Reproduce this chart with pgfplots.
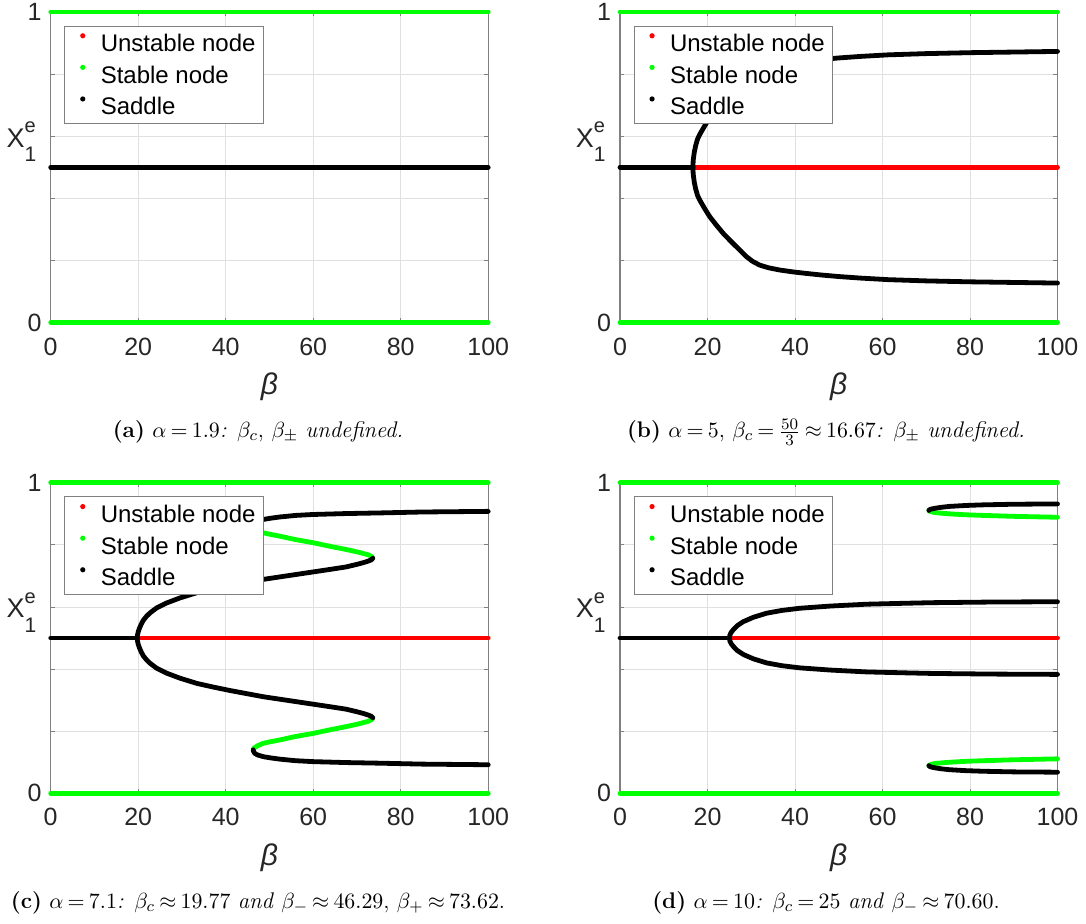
\documentclass[border=0pt]{standalone}
\usepackage{fontspec}
\setsansfont{Liberation Sans}
\usepackage{pgfplots}
\pgfplotsset{compat=1.18}
\definecolor{mgreen}{rgb}{0,1,0}
\definecolor{mred}{rgb}{1,0,0}
\definecolor{lab}{rgb}{0.15,0.15,0.15}
\pgfplotsset{
  curve/.style={forget plot, line width=2.4pt, line cap=round, line join=round},
  myaxis/.style={
    scale only axis, width=218.75pt, height=155.25pt,
    xmin=0, xmax=100, ymin=0, ymax=1,
    xtick={0,20,40,60,80,100},
    ytick={0,0.2,0.4,0.6,0.8,1}, yticklabels={0,,,,,1},
    grid=major, major grid style={draw=black!12, line width=0.5pt},
    axis line style={draw=black!50, line width=0.6pt},
    tick style={draw=black!50, line width=0.5pt},
    major tick length=2.2pt, tick align=inside,
    ticklabel style={font=\fontsize{12.5}{15}\selectfont\sffamily, text=lab},
    /pgf/number format/assume math mode=true,
    xticklabel shift=4pt, yticklabel shift=1pt,
    clip=false,
    xlabel={β},
    xlabel style={at={(rel axis cs:0.5,0)}, anchor=center, yshift=-32.25pt,
      font=\fontsize{15}{18}\selectfont\sffamily\itshape, text=lab},
    legend style={at={(0.031,0.956)}, anchor=north west, draw=black!50,
      line width=0.5pt, fill=white, font=\fontsize{12}{14}\selectfont\sffamily,
      inner xsep=4pt, inner ysep=3.5pt, row sep=5.5pt, column sep=4pt,
      nodes={inner sep=0pt, text height=9pt, text depth=1pt}},
    legend cell align=left,
    legend image code/.code={\path[draw=none] (0pt,4pt) -- (10pt,4pt);
      \fill[##1, draw=none] (5pt,4pt) circle (1.3pt);},
  }
}
\newcommand{\ylab}{\node[anchor=base east, inner sep=0pt, text=lab, font=\sffamily, xshift=-7pt]
  at (rel axis cs:0,0.565) {\fontsize{13.5}{15}\selectfont X\rlap{\raisebox{7.3pt}{\fontsize{10}{12}\selectfont e}}\raisebox{-7.3pt}{\fontsize{10.5}{12}\selectfont 1}};}
\newcommand{\leg}{%
  \addlegendimage{mred}\addlegendentry{Unstable node}
  \addlegendimage{mgreen}\addlegendentry{Stable node}
  \addlegendimage{black}\addlegendentry{Saddle}}
\newcommand{\tightrel}{\thickmuskip=3.5mu\relax}
\begin{document}
\begin{tikzpicture}
\useasboundingbox (0,0) rectangle (543pt,461.5pt);
% ---------------- (a)
\begin{axis}[myaxis, at={(25.35pt,300.25pt)}, anchor=south west]
\addplot[curve, mgreen] coordinates {(0,0) (100,0)};
\addplot[curve, mgreen] coordinates {(0,1) (100,1)};
\addplot[curve, black] coordinates {(0,0.5) (100,0.5)};
\leg
\ylab
\end{axis}
% ---------------- (b)
\begin{axis}[myaxis, at={(310pt,300.25pt)}, anchor=south west]
\addplot[curve, mgreen] coordinates {(0,0) (100,0)};
\addplot[curve, mgreen] coordinates {(0,1) (100,1)};
\addplot[curve, mred] coordinates {(16.67,0.5) (100,0.5)};
\addplot[curve, black] coordinates {(0,0.5) (16.67,0.5)};
\addplot[curve, black] coordinates {
(16.67,0.500) (16.72,0.480) (16.80,0.470) (17.00,0.450) (17.30,0.430) (17.70,0.410)
(18.20,0.395) (19.30,0.368) (20.50,0.341) (22.00,0.314) (23.60,0.287) (25.10,0.265)
(26.60,0.244) (28.90,0.212) (30.30,0.197) (31.90,0.185) (34.00,0.176) (36.50,0.169)
(39.50,0.163) (42.60,0.158) (46.00,0.153) (50.00,0.148) (55.00,0.143) (61.30,0.138)
(70.00,0.134) (80.00,0.131) (90.00,0.129) (100.00,0.127)};
\addplot[curve, black] coordinates {
(16.67,0.500) (16.72,0.520) (16.80,0.530) (17.00,0.550) (17.30,0.570) (17.70,0.590)
(18.20,0.605) (19.30,0.632) (20.50,0.659) (22.00,0.686) (23.60,0.713) (25.10,0.735)
(26.60,0.756) (28.90,0.788) (30.30,0.803) (31.90,0.815) (34.00,0.824) (36.50,0.831)
(39.50,0.837) (42.60,0.842) (46.00,0.847) (50.00,0.852) (55.00,0.857) (61.30,0.862)
(70.00,0.866) (80.00,0.869) (90.00,0.871) (100.00,0.873)};
\leg
\ylab
\end{axis}
% ---------------- (c)
\begin{axis}[myaxis, at={(25.35pt,64.85pt)}, anchor=south west]
\addplot[curve, mgreen] coordinates {(0,0) (100,0)};
\addplot[curve, mgreen] coordinates {(0,1) (100,1)};
\addplot[curve, mred] coordinates {(19.77,0.5) (100,0.5)};
\addplot[curve, mgreen] coordinates {
(73.62,0.243) (73.30,0.237) (72.60,0.232) (70.50,0.224) (67.60,0.215) (64.00,0.205)
(60.00,0.193) (56.00,0.183) (52.40,0.172) (50.20,0.166) (48.60,0.161) (47.40,0.154)
(46.70,0.148) (46.40,0.144) (46.29,0.140)};
\addplot[curve, mgreen] coordinates {
(73.62,0.757) (73.30,0.763) (72.60,0.768) (70.50,0.776) (67.60,0.785) (64.00,0.795)
(60.00,0.807) (56.00,0.817) (52.40,0.828) (50.20,0.834) (48.60,0.839) (47.40,0.846)
(46.70,0.852) (46.40,0.856) (46.29,0.860)};
\addplot[curve, black] coordinates {(0,0.5) (19.77,0.5)};
\addplot[curve, black] coordinates {
(19.77,0.500) (19.85,0.490) (20.00,0.480) (20.30,0.468) (20.70,0.455) (21.20,0.442)
(21.90,0.430) (22.70,0.419) (24.20,0.403) (26.50,0.387) (29.50,0.371) (33.40,0.354)
(37.20,0.342) (41.00,0.331) (48.60,0.311) (56.20,0.295) (63.80,0.279) (67.50,0.271)
(69.90,0.263) (71.50,0.257) (72.60,0.252) (73.30,0.248) (73.62,0.243)};
\addplot[curve, black] coordinates {
(19.77,0.500) (19.85,0.510) (20.00,0.520) (20.30,0.532) (20.70,0.545) (21.20,0.558)
(21.90,0.570) (22.70,0.581) (24.20,0.597) (26.50,0.613) (29.50,0.629) (33.40,0.646)
(37.20,0.658) (41.00,0.669) (48.60,0.689) (56.20,0.705) (63.80,0.721) (67.50,0.729)
(69.90,0.737) (71.50,0.743) (72.60,0.748) (73.30,0.752) (73.62,0.757)};
\addplot[curve, black] coordinates {
(46.29,0.140) (46.40,0.134) (46.70,0.128) (47.40,0.123) (48.60,0.118) (50.30,0.114)
(52.40,0.110) (56.00,0.105) (60.00,0.102) (67.60,0.099) (75.30,0.097) (85.00,0.094)
(100.00,0.092)};
\addplot[curve, black] coordinates {
(46.29,0.860) (46.40,0.866) (46.70,0.872) (47.40,0.877) (48.60,0.882) (50.30,0.886)
(52.40,0.890) (56.00,0.895) (60.00,0.898) (67.60,0.901) (75.30,0.903) (85.00,0.906)
(100.00,0.908)};
\leg
\ylab
\end{axis}
% ---------------- (d)
\begin{axis}[myaxis, at={(310pt,64.85pt)}, anchor=south west]
\addplot[curve, mgreen] coordinates {(0,0) (100,0)};
\addplot[curve, mgreen] coordinates {(0,1) (100,1)};
\addplot[curve, mred] coordinates {(25,0.5) (100,0.5)};
\addplot[curve, mgreen] coordinates {
(70.6,0.911) (70.8,0.9085) (71.2,0.9065) (72,0.904) (73.5,0.902) (75.3,0.900)
(79,0.897) (83,0.895) (90,0.892) (100,0.889)};
\addplot[curve, mgreen] coordinates {
(70.6,0.089) (70.8,0.0915) (71.2,0.0935) (72,0.096) (73.5,0.098) (75.3,0.100)
(79,0.103) (83,0.105) (90,0.108) (100,0.111)};
\addplot[curve, black] coordinates {(0,0.5) (25,0.5)};
\addplot[curve, black] coordinates {
(25.00,0.500) (25.10,0.509) (25.40,0.518) (25.90,0.527) (26.80,0.540) (28.20,0.553)
(30.50,0.567) (33.50,0.580) (37.00,0.589) (41.10,0.596) (48.00,0.603) (56.30,0.609)
(65.00,0.612) (71.50,0.614) (85.00,0.616) (100.00,0.617)};
\addplot[curve, black] coordinates {
(25.00,0.500) (25.10,0.491) (25.40,0.482) (25.90,0.473) (26.80,0.460) (28.20,0.447)
(30.50,0.433) (33.50,0.420) (37.00,0.411) (41.10,0.404) (48.00,0.397) (56.30,0.391)
(65.00,0.388) (71.50,0.386) (85.00,0.384) (100.00,0.383)};
\addplot[curve, black] coordinates {
(70.6,0.911) (70.8,0.9137) (71.2,0.9157) (72,0.918) (73.5,0.9212) (75.3,0.924)
(79,0.927) (83,0.929) (90,0.931) (100,0.932)};
\addplot[curve, black] coordinates {
(70.6,0.089) (70.8,0.0863) (71.2,0.0843) (72,0.082) (73.5,0.0788) (75.3,0.076)
(79,0.073) (83,0.071) (90,0.069) (100,0.068)};
\leg
\ylab
\end{axis}
% ---------------- captions
\tikzset{capt/.style={anchor=base, font=\fontsize{11.3}{14}\selectfont}}
\node[capt] at (129pt,242.65pt)
  {\tightrel\textbf{(a)} $\alpha=1.9$\textit{: }$\beta_c$, $\beta_\pm$ \textit{undefined.}};
\node[capt] at (413pt,242.65pt)
  {\tightrel\textbf{(b)} $\alpha=5$, $\beta_c=\frac{50}{3}\approx 16.67$\textit{: }$\beta_\pm$ \textit{undefined.}};
\node[capt] at (129pt,7.5pt)
  {\tightrel\textbf{(c)} $\alpha=7.1$\textit{: }$\beta_c\approx 19.77$ \textit{and} $\beta_-\approx 46.29$, $\beta_+\approx 73.62$.};
\node[capt] at (413pt,7.5pt)
  {\tightrel\textbf{(d)} $\alpha=10$\textit{: }$\beta_c=25$ \textit{and} $\beta_-\approx 70.60$.};
\end{tikzpicture}
\end{document}
